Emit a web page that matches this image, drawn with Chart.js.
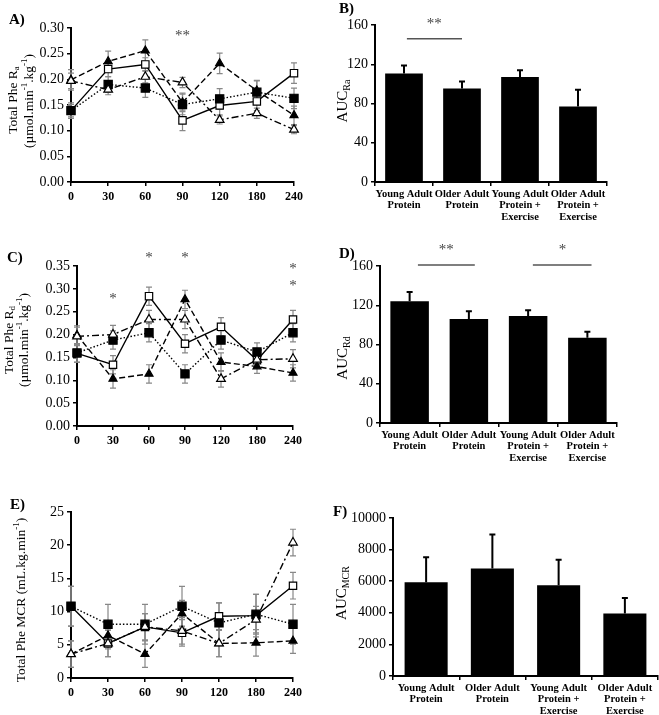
<!DOCTYPE html>
<html>
<head>
<meta charset="utf-8">
<script src="https://cdn.jsdelivr.net/npm/chart.js@4"></script>
<style>
  body { margin: 0; background: #fff; width: 659px; height: 715px; position: relative; overflow: hidden; }
  canvas { position: absolute; }
</style>
</head>
<body>
<canvas id="cA" width="330" height="230" style="left:0;top:0"></canvas>
<canvas id="cB" width="329" height="230" style="left:330px;top:0"></canvas>
<canvas id="cC" width="330" height="245" style="left:0;top:230px"></canvas>
<canvas id="cD" width="329" height="245" style="left:330px;top:230px"></canvas>
<canvas id="cE" width="330" height="245" style="left:0;top:470px"></canvas>
<canvas id="cF" width="329" height="245" style="left:330px;top:470px"></canvas>
<script>
// time points (min) and groups
const times = ['0', '30', '60', '90', '120', '180', '240'];
const groups = [['Young Adult', 'Protein'], ['Older Adult', 'Protein'], ['Young Adult', 'Protein +', 'Exercise'], ['Older Adult', 'Protein +', 'Exercise']];

// A) Total Phe Ra
const raOpenSq = [0.139, 0.220, 0.229, 0.120, 0.149, 0.157, 0.212];
const raOpenSqErr = [0.015, 0.015, 0.013, 0.020, 0.018, 0.018, 0.020];
const raFillSq = [0.139, 0.190, 0.183, 0.151, 0.162, 0.175, 0.163];
const raFillSqErr = [0.012, 0.015, 0.018, 0.020, 0.020, 0.022, 0.020];
const raFillTri = [0.199, 0.235, 0.256, 0.155, 0.231, 0.178, 0.130];
const raFillTriErr = [0.020, 0.020, 0.021, 0.018, 0.020, 0.020, 0.018];
const raOpenTri = [0.197, 0.180, 0.205, 0.194, 0.121, 0.134, 0.102];
const raOpenTriErr = [0.015, 0.010, 0.012, 0.010, 0.008, 0.010, 0.008];

// C) Total Phe Rd
const rdOpenSq = [0.159, 0.134, 0.284, 0.180, 0.217, 0.144, 0.233];
const rdOpenSqErr = [0.020, 0.020, 0.020, 0.020, 0.020, 0.015, 0.020];
const rdFillSq = [0.160, 0.188, 0.204, 0.114, 0.188, 0.162, 0.204];
const rdFillSqErr = [0.020, 0.020, 0.020, 0.020, 0.020, 0.020, 0.020];
const rdFillTri = [0.199, 0.103, 0.114, 0.277, 0.140, 0.130, 0.116];
const rdFillTriErr = [0.020, 0.020, 0.020, 0.020, 0.020, 0.015, 0.018];
const rdOpenTri = [0.196, 0.200, 0.233, 0.233, 0.103, 0.145, 0.147];
const rdOpenTriErr = [0.020, 0.020, 0.020, 0.020, 0.018, 0.015, 0.020];

// E) Total Phe MCR
const mcrOpenSq = [10.8, 5.2, 7.7, 6.8, 9.3, 9.4, 13.9];
const mcrOpenSqErr = [3, 2, 2, 2, 2, 3.2, 2];
const mcrFillSq = [10.8, 8.1, 8.1, 10.8, 8.3, 9.6, 8.1];
const mcrFillSqErr = [3, 3, 3, 3, 3, 3, 3];
const mcrFillTri = [3.6, 6.4, 3.6, 9.7, 5.2, 5.3, 5.6];
const mcrFillTriErr = [2, 2, 2, 2, 2, 2, 1.9];
const mcrOpenTri = [3.6, 5.2, 7.7, 7.1, 5.2, 8.8, 20.4];
const mcrOpenTriErr = [2, 2, 2, 2, 2, 2, 2];

// B, D, F) AUC bars
const aucRa = [110.6, 95.3, 107, 77];
const aucRaErr = [8, 7, 7, 17];
const aucRd = [124, 106, 109, 87];
const aucRdErr = [9.6, 8, 6, 6];
const aucMcr = [5930, 6800, 5740, 3960];
const aucMcrErr = [1590, 2160, 1610, 970];

Chart.defaults.font.family = '"Liberation Serif", "Times New Roman", serif';
Chart.defaults.color = '#000';

const serif = '"Liberation Serif", "Times New Roman", serif';

// error bars drawn from the y scale
const errorBars = {
  id: 'errorBars',
  beforeDatasetsDraw(chart, args, opts) {
    const ctx = chart.ctx, y = chart.scales.y;
    ctx.save();
    ctx.strokeStyle = opts.color;
    ctx.lineWidth = opts.width;
    chart.data.datasets.forEach((ds, i) => {
      if (!ds.errors) return;
      chart.getDatasetMeta(i).data.forEach((el, j) => {
        const v = ds.data[j], e = ds.errors[j];
        const top = y.getPixelForValue(v + e);
        const bot = opts.upOnly ? y.getPixelForValue(v) : y.getPixelForValue(v - e);
        ctx.beginPath();
        ctx.moveTo(el.x, top); ctx.lineTo(el.x, bot);
        ctx.moveTo(el.x - opts.cap, top); ctx.lineTo(el.x + opts.cap, top);
        if (!opts.upOnly) { ctx.moveTo(el.x - opts.cap, bot); ctx.lineTo(el.x + opts.cap, bot); }
        ctx.stroke();
      });
    });
    ctx.restore();
  }
};

function richText(ctx, segs, x, y, size, rotate) {
  ctx.save();
  ctx.translate(x, y);
  if (rotate) ctx.rotate(-Math.PI / 2);
  const fontFor = s => (s[1] ? Math.round(size * 0.65) : size) + 'px ' + serif;
  let total = 0;
  segs.forEach(s => { ctx.font = fontFor(s); total += ctx.measureText(s[0]).width; });
  let cx = -total / 2;
  ctx.textBaseline = 'middle';
  ctx.textAlign = 'left';
  ctx.fillStyle = '#000';
  segs.forEach(s => {
    ctx.font = fontFor(s);
    const dy = s[1] === 'sub' ? size * 0.3 : s[1] === 'sup' ? -size * 0.35 : 0;
    ctx.fillText(s[0], cx, dy);
    cx += ctx.measureText(s[0]).width;
  });
  ctx.restore();
}

// panel letters, axis titles, asterisks, significance lines
const decor = {
  id: 'decor',
  afterDraw(chart, args, o) {
    const ctx = chart.ctx, xs = chart.scales.x, ys = chart.scales.y;
    ctx.save();
    ctx.font = 'bold 15px ' + serif;
    ctx.fillStyle = '#000';
    ctx.textBaseline = 'middle';
    ctx.fillText(o.letter[0], o.letter[1], o.letter[2]);
    (o.titles || []).forEach(t => richText(ctx, t.segs, t.x, t.y, t.size || 14, true));
    ctx.strokeStyle = '#555';
    ctx.lineWidth = 1.5;
    (o.lines || []).forEach(l => {
      const yy = ys.getPixelForValue(l.v);
      ctx.beginPath();
      ctx.moveTo(xs.getPixelForValue(l.i0), yy);
      ctx.lineTo(xs.getPixelForValue(l.i1), yy);
      ctx.stroke();
    });
    ctx.fillStyle = '#444';
    ctx.font = '15px ' + serif;
    ctx.textAlign = 'center';
    (o.stars || []).forEach(s => ctx.fillText(s.t, xs.getPixelForValue(s.i), ys.getPixelForValue(s.v)));
    ctx.restore();
  }
};

const styles = {
  openSq:  { pointStyle: 'rect', pointRadius: 5.2, pointBackgroundColor: '#fff', borderDash: [] },
  fillSq:  { pointStyle: 'rect', pointRadius: 5.8, pointBackgroundColor: '#000', borderDash: [1.5, 2] },
  fillTri: { pointStyle: 'triangle', pointRadius: 4.6, pointBackgroundColor: '#000', borderDash: [6, 3] },
  openTri: { pointStyle: 'triangle', pointRadius: 5, pointBackgroundColor: '#fff', borderDash: [7, 3, 2, 3] }
};

function fit(w, h) {
  return { y: s => { s.width = w; }, x: s => { s.height = h; } };
}

function axisCommon(tickFont) {
  return {
    border: { color: '#000', width: 2 },
    grid: { display: true, drawOnChartArea: false, drawTicks: true, tickLength: 4, color: '#000', lineWidth: 1.5 },
    ticks: { font: tickFont, color: '#000', padding: 3 }
  };
}

function lineChart(id, series, yMax, yStep, dec, box, deco) {
  const f = fit(box.yw, box.xh);
  const xAxis = axisCommon({ size: 12, weight: 'bold' });
  xAxis.afterFit = f.x;
  xAxis.ticks.maxRotation = 0;
  xAxis.ticks.padding = 4;
  const yAxis = axisCommon({ size: 14 });
  yAxis.min = 0; yAxis.max = yMax;
  yAxis.ticks.stepSize = yStep;
  yAxis.ticks.callback = v => v.toFixed(dec);
  yAxis.afterFit = f.y;
  new Chart(document.getElementById(id), {
    type: 'line',
    data: {
      labels: times,
      datasets: series.map(s => Object.assign({
        data: s[0], errors: s[1],
        borderColor: '#000', borderWidth: 1.4, pointBorderColor: '#000', pointBorderWidth: 1.2,
        fill: false, tension: 0
      }, styles[s[2]]))
    },
    options: {
      responsive: false, animation: false, devicePixelRatio: 1,
      layout: { padding: { top: box.top, right: box.right, left: 0, bottom: 0 } },
      plugins: { legend: { display: false }, tooltip: { enabled: false },
        errorBars: { color: '#888', width: 1.2, cap: 3, upOnly: false }, decor: deco },
      scales: { x: xAxis, y: yAxis }
    },
    plugins: [errorBars, decor]
  });
}

function barChart(id, vals, errs, yMax, yStep, box, deco) {
  const f = fit(box.yw, box.xh);
  const xAxis = axisCommon({ size: 10.5, weight: 'bold', lineHeight: 1.12 });
  xAxis.afterFit = f.x;
  xAxis.ticks.maxRotation = 0;
  xAxis.ticks.autoSkip = false;
  xAxis.ticks.padding = 2;
  const yAxis = axisCommon({ size: 14 });
  yAxis.min = 0; yAxis.max = yMax;
  yAxis.ticks.stepSize = yStep;
  yAxis.ticks.callback = v => String(v);
  yAxis.afterFit = f.y;
  new Chart(document.getElementById(id), {
    type: 'bar',
    data: {
      labels: groups,
      datasets: [{ data: vals, errors: errs, backgroundColor: '#000', borderWidth: 0,
        categoryPercentage: 1, barPercentage: 0.65 }]
    },
    options: {
      responsive: false, animation: false, devicePixelRatio: 1,
      layout: { padding: { top: box.top, right: box.right, left: 0, bottom: 0 } },
      plugins: { legend: { display: false }, tooltip: { enabled: false },
        errorBars: { color: '#000', width: 2, cap: 3, upOnly: true }, decor: deco },
      scales: { x: xAxis, y: yAxis }
    },
    plugins: [errorBars, decor]
  });
}

const umol = [['(µmol.min'], ['-1', 'sup'], ['.kg'], ['-1', 'sup'], [')']];

lineChart('cA', [
  [raOpenTri, raOpenTriErr, 'openTri'],
  [raFillTri, raFillTriErr, 'fillTri'],
  [raFillSq, raFillSqErr, 'fillSq'],
  [raOpenSq, raOpenSqErr, 'openSq']
], 0.30, 0.05, 2, { yw: 71, xh: 48, top: 28, right: 36 }, {
  letter: ['A)', 9, 20],
  titles: [
    { segs: [['Total Phe R'], ['a', 'sub']], x: 13, y: 100, size: 13.5 },
    { segs: umol, x: 29, y: 101, size: 13.5 }
  ],
  stars: [{ i: 3, v: 0.284, t: '**' }]
});

barChart('cB', aucRa, aucRaErr, 160, 40, { yw: 45, xh: 48, top: 25, right: 52 }, {
  letter: ['B)', 9, 9],
  titles: [{ segs: [['AUC'], ['Ra', 'sub']], x: 13, y: 101, size: 15 }],
  lines: [{ i0: 0.05, i1: 1.0, v: 146 }],
  stars: [{ i: 0.52, v: 161, t: '**' }]
});

lineChart('cC', [
  [rdOpenTri, rdOpenTriErr, 'openTri'],
  [rdFillTri, rdFillTriErr, 'fillTri'],
  [rdFillSq, rdFillSqErr, 'fillSq'],
  [rdOpenSq, rdOpenSqErr, 'openSq']
], 0.35, 0.05, 2, { yw: 77, xh: 49, top: 36, right: 37 }, {
  letter: ['C)', 7, 28],
  titles: [
    { segs: [['Total Phe R'], ['d', 'sub']], x: 9, y: 110, size: 13.5 },
    { segs: umol, x: 24, y: 110, size: 13.5 }
  ],
  stars: [
    { i: 1, v: 0.278, t: '*' }, { i: 2, v: 0.368, t: '*' }, { i: 3, v: 0.368, t: '*' },
    { i: 6, v: 0.343, t: '*' }, { i: 6, v: 0.306, t: '*' }
  ]
});

barChart('cD', aucRd, aucRdErr, 160, 40, { yw: 50, xh: 52, top: 36, right: 42 }, {
  letter: ['D)', 9, 24],
  titles: [{ segs: [['AUC'], ['Rd', 'sub']], x: 13, y: 128, size: 15 }],
  lines: [{ i0: 0.14, i1: 1.1, v: 161 }, { i0: 2.08, i1: 3.07, v: 161 }],
  stars: [{ i: 0.62, v: 176, t: '**' }, { i: 2.58, v: 176, t: '*' }]
});

lineChart('cE', [
  [mcrOpenTri, mcrOpenTriErr, 'openTri'],
  [mcrFillTri, mcrFillTriErr, 'fillTri'],
  [mcrFillSq, mcrFillSqErr, 'fillSq'],
  [mcrOpenSq, mcrOpenSqErr, 'openSq']
], 25, 5, 0, { yw: 71, xh: 37, top: 42, right: 37 }, {
  letter: ['E)', 10, 35],
  titles: [{ segs: [['Total Phe MCR (mL.kg.min'], ['-1', 'sup'], [')']], x: 21, y: 130, size: 13.5 }]
});

barChart('cF', aucMcr, aucMcrErr, 10000, 2000, { yw: 63, xh: 39, top: 48, right: 1 }, {
  letter: ['F)', 3, 42],
  titles: [{ segs: [['AUC'], ['MCR', 'sub']], x: 12, y: 123, size: 15 }]
});
</script>
</body>
</html>
